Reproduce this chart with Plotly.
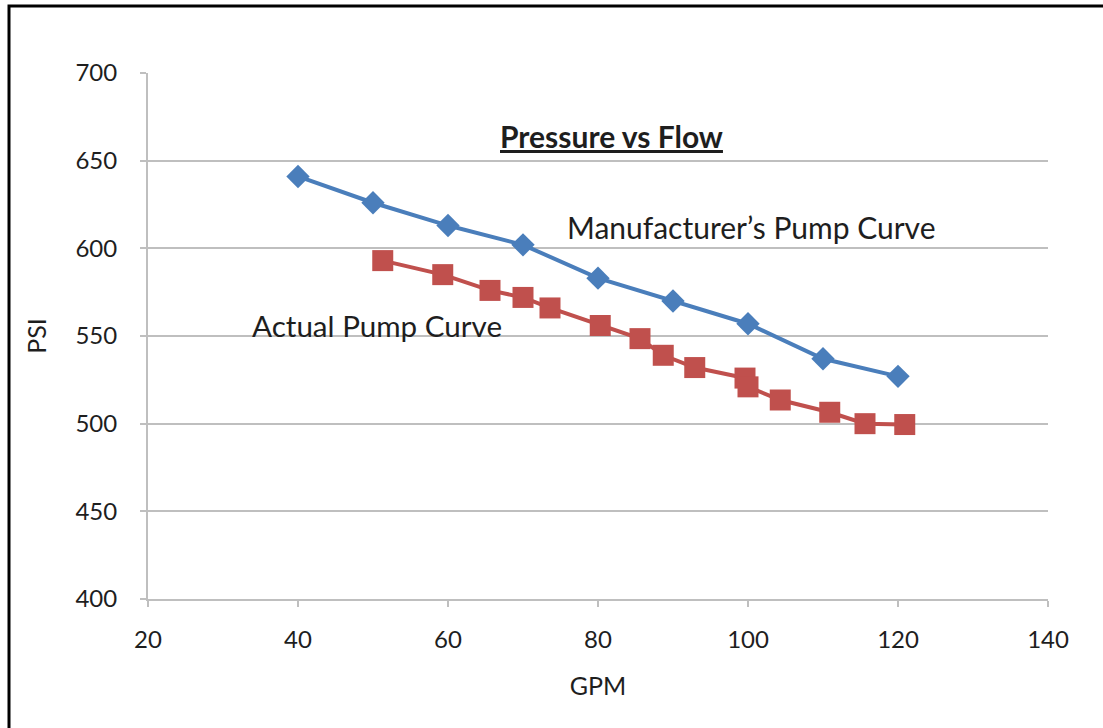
import plotly.graph_objects as go

# Manufacturer's pump curve
mfr_gpm = [40, 50, 60, 70, 80, 90, 100, 110, 120]
mfr_psi = [641, 626, 613, 602, 583, 570, 557, 537, 527]

# Actual pump curve
act_gpm = [51.3, 59.3, 65.6, 70.0, 73.6, 80.3, 85.6, 88.7, 92.9, 99.6, 100.0, 104.3, 110.9, 115.6, 120.9]
act_psi = [593, 585, 576, 572, 566, 556, 548.5, 539, 532, 526, 521, 513.5, 506.5, 500, 499.5]

x_ticks = [20, 40, 60, 80, 100, 120, 140]
y_ticks = [400, 450, 500, 550, 600, 650, 700]

FONT = "Lato, 'Open Sans', sans-serif"
TXT = "#1e1e1e"
GRID = "#bfbfbf"

fig = go.Figure()
fig.add_trace(go.Scatter(
    x=mfr_gpm, y=mfr_psi, mode="lines+markers", name="Manufacturer's Pump Curve",
    line=dict(color="#4A7EBB", width=4),
    marker=dict(symbol="diamond", size=18, color="#4A7EBB"),
))
fig.add_trace(go.Scatter(
    x=act_gpm, y=act_psi, mode="lines+markers", name="Actual Pump Curve",
    line=dict(color="#C0504D", width=4),
    marker=dict(symbol="square", size=21, color="#C0504D"),
))

fig.update_layout(
    width=1103, height=728,
    margin=dict(l=148, r=55, t=73, b=129),
    paper_bgcolor="white", plot_bgcolor="white",
    showlegend=False,
    font=dict(family=FONT, color=TXT, size=24),
    xaxis=dict(
        range=[20, 140], tickvals=x_ticks, ticktext=[str(v) for v in x_ticks],
        showgrid=False, showline=True, linecolor=GRID, linewidth=2,
        ticks="outside", ticklen=6, tickcolor=GRID, tickwidth=2,
        ticklabelstandoff=12, zeroline=False,
        tickfont=dict(size=24, color=TXT),
        title=dict(text="GPM", font=dict(size=25, color=TXT), standoff=26),
        automargin=False,
    ),
    yaxis=dict(
        range=[400, 700], tickvals=y_ticks, ticktext=[str(v) for v in y_ticks],
        showgrid=True, gridcolor=GRID, gridwidth=2,
        showline=True, linecolor=GRID, linewidth=2,
        ticks="outside", ticklen=6, tickcolor=GRID, tickwidth=2,
        ticklabelstandoff=18, zeroline=False,
        tickfont=dict(size=24, color=TXT),
        title=dict(text="PSI", font=dict(size=25, color=TXT), standoff=22),
        automargin=False,
    ),
    annotations=[
        dict(text="<b><u>Pressure vs Flow</u></b>", xref="paper", yref="paper",
             x=(611 - 148) / 900, y=(599 - 136) / 526, showarrow=False,
             font=dict(size=30, color=TXT), xanchor="center", yanchor="middle"),
        dict(text="Manufacturer’s Pump Curve", xref="paper", yref="paper",
             x=(565 - 148) / 900, y=(599 - 227) / 526, showarrow=False,
             font=dict(size=30, color=TXT), xanchor="left", yanchor="middle"),
        dict(text="Actual Pump Curve", xref="paper", yref="paper",
             x=(250 - 148) / 900, y=(599 - 325) / 526, showarrow=False,
             font=dict(size=29.6, color=TXT), xanchor="left", yanchor="middle"),
    ],
    shapes=[
        dict(type="rect", xref="paper", yref="paper",
             x0=(9 - 148) / 900, x1=(1110 - 148) / 900,
             y0=(599 - 735) / 526, y1=(599 - 6) / 526,
             line=dict(color="black", width=3), fillcolor="rgba(0,0,0,0)", layer="below"),
    ],
)

fig.write_html("out.html")
